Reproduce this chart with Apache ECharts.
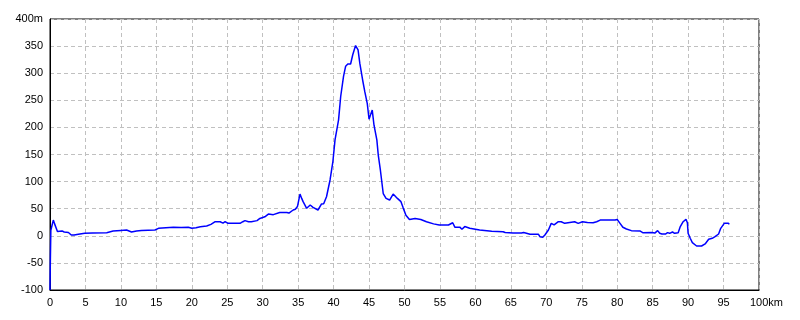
<!DOCTYPE html>
<html>
<head>
<meta charset="utf-8">
<script src="https://cdn.jsdelivr.net/npm/echarts@6/dist/echarts.min.js"></script>
<style>
html,body{margin:0;padding:0;background:#fff;}
#chart{width:800px;height:320px;}
</style>
</head>
<body>
<div id="chart"></div>
<script>
// Distance along route (km)
var distanceKm = [
  0, 0.05, 0.12, 0.3, 0.47, 0.65, 0.8, 1.05, 1.3, 1.7, 2.0, 2.6, 3.0, 3.4, 4.0, 4.9, 6.0, 8.0, 8.9, 10.0,
  10.8, 11.5, 12.2, 12.9, 14.8, 15.3, 17.4, 18.5, 19.5, 20.0, 20.6, 21.2, 22.1, 22.7, 23.3, 24.0, 24.4, 24.7, 25.1, 26.8,
  27.2, 27.5, 28.0, 28.4, 29.2, 29.6, 30.3, 30.8, 31.5, 32.4, 33.4, 33.7, 34.3, 34.6, 34.9, 35.26, 35.5, 35.7, 36.2, 36.7,
  37.1, 37.8, 38.3, 38.6, 39.0, 39.5, 39.9, 40.2, 40.7, 41.0, 41.4, 41.7, 42.0, 42.4, 42.7, 43.1, 43.45, 43.7, 44.1, 44.4,
  44.75, 45.0, 45.2, 45.45, 45.7, 46.1, 46.3, 46.6, 47.0, 47.4, 47.9, 48.4, 49.0, 49.5, 49.8, 50.2, 50.7, 51.5, 52.3, 53.1,
  54.1, 54.9, 56.2, 56.4, 56.8, 57.1, 57.8, 58.1, 58.5, 59.2, 60.6, 62.3, 63.9, 64.2, 64.4, 65.3, 66.5, 66.8, 67.2, 67.7,
  68.9, 69.1, 69.5, 69.8, 70.3, 70.7, 70.9, 71.1, 71.7, 72.1, 72.6, 73.3, 74.0, 74.5, 75.1, 75.8, 76.6, 77.1, 77.6, 79.7,
  80.0, 80.4, 80.8, 81.3, 82.0, 83.2, 83.6, 84.9, 85.3, 85.7, 86.0, 86.3, 86.8, 87.1, 87.4, 87.8, 88.1, 88.6, 88.9, 89.3,
  89.7, 89.9, 90.0, 90.3, 90.6, 91.2, 91.9, 92.4, 92.9, 93.4, 93.8, 94.3, 94.6, 95.1, 95.7, 95.8
];
// Elevation (m)
var elevationM = [
  -100, -45, 10, 20, 29, 22, 20, 8, 7, 9, 7, 6, 1.5, 1.5, 3, 4.6, 5, 5.8, 8.8, 10,
  10.7, 7, 9, 10, 10.7, 13.8, 15.7, 15.5, 15.7, 13.8, 15, 16.8, 18, 21, 26, 26, 23.5, 26, 23, 23,
  26, 28, 26, 26, 28, 32, 35, 40, 39, 43, 43, 42, 47.6, 49, 54, 77, 69, 63, 50.7, 56.8,
  52.5, 47.6, 58.7, 59, 72, 103, 137, 177, 214, 257, 294, 313, 317, 317, 334, 351, 343, 318, 287, 266,
  244, 215, 223, 232, 204, 177, 149, 121, 78, 69, 66, 77, 69, 63, 52, 38, 30, 32, 30, 26,
  22, 20, 20, 17, 24, 16, 16, 12, 17, 14, 10.7, 8.3, 7.6, 6, 7, 5, 5, 6, 4.6, 2.7,
  2.7, -1.6, -2.8, 1.5, 10.7, 23, 26, 20, 26, 26, 23, 24.5, 26, 23, 26, 24.5, 24, 26, 29, 29,
  30, 23, 15.7, 12.5, 9.5, 9, 5.8, 6, 5, 9.5, 4.6, 3.3, 3.3, 5.8, 4.6, 7, 4.6, 5.8, 17, 26,
  30.4, 24, 4.6, -4.6, -12.7, -18.8, -18.8, -15, -6.5, -4.6, -1.6, 3.3, 13.8, 23, 23, 21
];
// Axis ranges / tick labels
var xRange = [0, 100], xStep = 5, xUnit = 'km';
var yRange = [-100, 400], yStep = 50, yUnit = 'm';

var points = distanceKm.map(function (d, i) { return [d, elevationM[i]]; });

var FONT = "'Liberation Sans', Arial, sans-serif";
var FS = 11;
var chart = echarts.init(document.getElementById('chart'), null, {renderer: 'canvas'});
chart.setOption({
  animation: false,
  backgroundColor: '#ffffff',
  grid: {left: 50, right: 41, top: 19, bottom: 30, show: true, borderColor: '#000', borderWidth: 1, backgroundColor: 'transparent'},
  xAxis: {
    type: 'value', min: xRange[0], max: xRange[1], interval: xStep,
    axisLine: {show: true, onZero: false, lineStyle: {color: '#000', width: 1}},
    axisTick: {show: false},
    splitLine: {show: true, lineStyle: {color: '#c0c0c0', type: [4, 3], width: 1}},
    axisLabel: {
      color: '#000', fontFamily: FONT, fontSize: FS, margin: 7, hideOverlap: false,
      formatter: function (v) { return v === xRange[1] ? '{u|' + v + xUnit + '}' : String(v); },
      rich: {u: {color: '#000', fontFamily: FONT, fontSize: FS, padding: [0, 0, 0, 15]}}
    }
  },
  yAxis: {
    type: 'value', min: yRange[0], max: yRange[1], interval: yStep,
    axisLine: {show: true, onZero: false, lineStyle: {color: '#000', width: 1}},
    axisTick: {show: false},
    splitLine: {show: true, lineStyle: {color: '#c0c0c0', type: [4, 3], width: 1}},
    axisLabel: {
      color: '#000', fontFamily: FONT, fontSize: FS, margin: 7,
      formatter: function (v) { return v === yRange[1] ? v + yUnit : String(v); }
    }
  },
  series: [{
    type: 'line', data: points, showSymbol: false, symbol: 'none',
    lineStyle: {color: '#0000ff', width: 1.5},
    z: 3
  }]
});
</script>
</body>
</html>
